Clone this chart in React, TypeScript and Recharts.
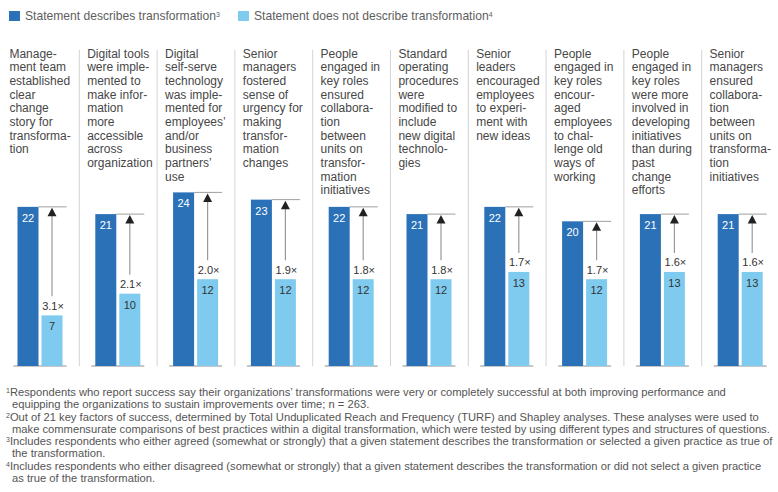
import React from "react";
import { BarChart, Bar, XAxis, YAxis } from "recharts";

const categories = [
  "Management team established clear change story for transformation",
  "Digital tools were implemented to make information more accessible across organization",
  "Digital self-serve technology was implemented for employees’ and/or business partners’ use",
  "Senior managers fostered sense of urgency for making transformation changes",
  "People engaged in key roles ensured collaboration between units on transformation initiatives",
  "Standard operating procedures were modified to include new digital technologies",
  "Senior leaders encouraged employees to experiment with new ideas",
  "People engaged in key roles encouraged employees to challenge old ways of working",
  "People engaged in key roles were more involved in developing initiatives than during past change efforts",
  "Senior managers ensured collaboration between units on transformation initiatives",
];

const labelLines: string[][] = [
  ["Manage-", "ment team", "established", "clear", "change", "story for", "transforma-", "tion"],
  ["Digital tools", "were imple-", "mented to", "make infor-", "mation", "more", "accessible", "across", "organization"],
  ["Digital", "self-serve", "technology", "was imple-", "mented for", "employees’", "and/or", "business", "partners’", "use"],
  ["Senior", "managers", "fostered", "sense of", "urgency for", "making", "transfor-", "mation", "changes"],
  ["People", "engaged in", "key roles", "ensured", "collabora-", "tion", "between", "units on", "transfor-", "mation", "initiatives"],
  ["Standard", "operating", "procedures", "were", "modified to", "include", "new digital", "technolo-", "gies"],
  ["Senior", "leaders", "encouraged", "employees", "to experi-", "ment with", "new ideas"],
  ["People", "engaged in", "key roles", "encour-", "aged", "employees", "to chal-", "lenge old", "ways of", "working"],
  ["People", "engaged in", "key roles", "were more", "involved in", "developing", "initiatives", "than during", "past", "change", "efforts"],
  ["Senior", "managers", "ensured", "collabora-", "tion", "between", "units on", "transforma-", "tion", "initiatives"],
];

const describesValues = [22, 21, 24, 23, 22, 21, 22, 20, 21, 21];
const notDescribesValues = [7, 10, 12, 12, 12, 12, 13, 12, 13, 13];
const multiplierLabels = ["3.1×", "2.1×", "2.0×", "1.9×", "1.8×", "1.8×", "1.7×", "1.7×", "1.6×", "1.6×"];

const legendLabels = ["Statement describes transformation", "Statement does not describe transformation"];
const legendMarks = ["3", "4"];

const footnotes: { mark: string; lines: string[] }[] = [
  {
    mark: "1",
    lines: [
      "Respondents who report success say their organizations’ transformations were very or completely successful at both improving performance and",
      "equipping the organizations to sustain improvements over time; n = 263.",
    ],
  },
  {
    mark: "2",
    lines: [
      "Out of 21 key factors of success, determined by Total Unduplicated Reach and Frequency (TURF) and Shapley analyses. These analyses were used to",
      "make commensurate comparisons of best practices within a digital transformation, which were tested by using different types and structures of questions.",
    ],
  },
  {
    mark: "3",
    lines: [
      "Includes respondents who either agreed (somewhat or strongly) that a given statement describes the transformation or selected a given practice as true of",
      "the transformation.",
    ],
  },
  {
    mark: "4",
    lines: [
      "Includes respondents who either disagreed (somewhat or strongly) that a given statement describes the transformation or did not select a given practice",
      "as true of the transformation.",
    ],
  },
];

const data = categories.map((name, i) => ({
  name,
  describes: describesValues[i],
  notDescribes: notDescribesValues[i],
  multiplier: multiplierLabels[i],
}));

const DARK = "#2a71b8";
const LIGHT = "#7fcbef";
const FONT = "'Liberation Sans', Arial, Helvetica, sans-serif";
const CHART_W = 780;
const CHART_H = 492;
const MARGIN = { top: 49, right: 0.5, bottom: 126, left: 1.5 };
const AXIS_H = 100;
const PLOT_W = CHART_W - MARGIN.left - MARGIN.right;
const PLOT_H = CHART_H - MARGIN.top - AXIS_H - MARGIN.bottom;
const BAND = PLOT_W / categories.length;
const BAR_SIZE = 21;
const BAR_GAP = 3;
const LINE_H = 13.67;

const CategoryTick = (props: any) => {
  const { x, y, payload } = props;
  const idx = payload.index;
  const lines = labelLines[idx] || [];
  const top = y - AXIS_H;
  return (
    <g>
      {idx < categories.length - 1 && (
        <line x1={x + BAND / 2} x2={x + BAND / 2} y1={top + 1} y2={y + PLOT_H} stroke="#d3d3d3" strokeWidth={1} />
      )}
      <text x={x - 31} y={top + 8.5} fill="#474747" fontSize={12} fontFamily={FONT}>
        {lines.map((l, k) => (
          <tspan key={k} x={x - 31} dy={k === 0 ? 0 : LINE_H}>
            {l}
          </tspan>
        ))}
      </text>
    </g>
  );
};

const DarkShape = (props: any) => {
  const { x, y, width, height, payload } = props;
  const bottom = y + height;
  const pairRight = x + width * 2 + BAR_GAP;
  return (
    <g>
      <line x1={x - 4} x2={pairRight + 4} y1={bottom} y2={bottom} stroke="#b5b5b5" strokeWidth={1.5} />
      <line x1={x + width} x2={pairRight + 4} y1={y} y2={y} stroke="#9e9e9e" strokeWidth={1} />
      <rect x={x} y={y} width={width} height={height} fill={DARK} />
      <text x={x + width / 2} y={y + 15} textAnchor="middle" fill="#fff" fontSize={11} fontFamily={FONT}>
        {payload.describes}
      </text>
    </g>
  );
};

const LightShape = (props: any) => {
  const { x, y, width, height, payload } = props;
  const bottom = y + height;
  const pxPerUnit = height / payload.notDescribes;
  const darkTop = bottom - payload.describes * pxPerUnit;
  const cx = x + width / 2;
  return (
    <g>
      <rect x={x} y={y} width={width} height={height} fill={LIGHT} />
      <text x={cx} y={y + 15} textAnchor="middle" fill="#333" fontSize={11} fontFamily={FONT}>
        {payload.notDescribes}
      </text>
      <text x={cx + 1} y={y - 5.5} textAnchor="middle" fill="#333" fontSize={11} fontFamily={FONT}>
        {payload.multiplier}
      </text>
      <line x1={cx} x2={cx} y1={darkTop + 9} y2={y - 19} stroke="#999" strokeWidth={1.2} />
      <polygon
        points={`${cx},${darkTop + 1} ${cx - 4.5},${darkTop + 9.5} ${cx + 4.5},${darkTop + 9.5}`}
        fill="#222"
      />
    </g>
  );
};

const Sup = ({ children }: { children: React.ReactNode }) => (
  <span style={{ fontSize: 7, verticalAlign: "top", position: "relative", top: -1 }}>{children}</span>
);

export default function App() {
  return (
    <div
      style={{
        position: "absolute",
        left: 0,
        top: 0,
        width: 778,
        height: 492,
        overflow: "hidden",
        background: "#fff",
        fontFamily: FONT,
      }}
    >
      {legendLabels.map((label, i) => (
        <React.Fragment key={label}>
          <div
            style={{
              position: "absolute",
              left: i === 0 ? 9 : 238,
              top: 11,
              width: 11,
              height: 10,
              background: i === 0 ? DARK : LIGHT,
            }}
          />
          <div
            style={{
              position: "absolute",
              left: i === 0 ? 25 : 254,
              top: 9,
              lineHeight: "14px",
              fontSize: 12.1,
              color: "#5e5e5e",
              whiteSpace: "nowrap",
            }}
          >
            {label}
            <Sup>{legendMarks[i]}</Sup>
          </div>
        </React.Fragment>
      ))}

      <div style={{ position: "absolute", left: 0, top: 0 }}>
        <BarChart width={CHART_W} height={CHART_H} data={data} margin={MARGIN} barGap={BAR_GAP}>
          <XAxis
            dataKey="name"
            orientation="top"
            height={AXIS_H}
            axisLine={false}
            tickLine={false}
            tickSize={0}
            tickMargin={0}
            interval={0}
            tick={<CategoryTick />}
          />
          <YAxis hide domain={[0, 30]} />
          <Bar dataKey="describes" barSize={BAR_SIZE} isAnimationActive={false} shape={<DarkShape />} />
          <Bar dataKey="notDescribes" barSize={BAR_SIZE} isAnimationActive={false} shape={<LightShape />} />
        </BarChart>
      </div>

      <div
        style={{
          position: "absolute",
          left: 0,
          top: 386,
          width: 778,
          fontSize: 11.2,
          lineHeight: "12.3px",
          color: "#555",
        }}
      >
        {footnotes.map((f) => (
          <div key={f.mark}>
            {f.lines.map((l, k) => (
              <div key={k} style={{ whiteSpace: "nowrap", paddingLeft: k === 0 ? 6 : 12 }}>
                {k === 0 && <Sup>{f.mark}</Sup>}
                {l}
              </div>
            ))}
          </div>
        ))}
      </div>
    </div>
  );
}
